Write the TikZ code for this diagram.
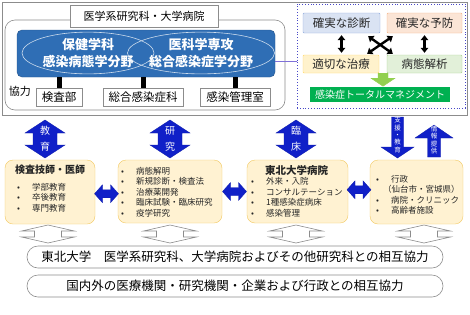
\documentclass[tikz,border=0pt]{standalone}
\usepackage{fontspec}
\setmainfont{Noto Sans CJK JP}
\usepackage{tikz}
\usetikzlibrary{arrows.meta,positioning,calc,shapes.geometric}
\definecolor{framegray}{HTML}{8C8C8C}
\definecolor{bandblue}{HTML}{2F6EB5}
\definecolor{arrowblue}{HTML}{1020C8}
\definecolor{dotblue}{HTML}{4848C8}
\definecolor{linkviolet}{HTML}{7F70D8}
\definecolor{diagfill}{HTML}{DAE3F3}
\definecolor{diagline}{HTML}{8FAADC}
\definecolor{prevfill}{HTML}{FBE5D6}
\definecolor{prevline}{HTML}{F4B183}
\definecolor{treatfill}{HTML}{FFF2CC}
\definecolor{treatline}{HTML}{FFD966}
\definecolor{analfill}{HTML}{E2F0D9}
\definecolor{analline}{HTML}{A9D18E}
\definecolor{tmgreen}{HTML}{00B050}
\definecolor{lightgreen}{HTML}{92D050}
\definecolor{cardfill}{HTML}{FFF2D2}
\definecolor{cardline}{HTML}{F2C85E}
\definecolor{textgray}{HTML}{262626}
\newcommand{\blt}{\makebox[15pt][l]{•}}

\begin{document}
\begin{tikzpicture}[x=1pt,y=-1pt,
  font=\fontsize{9}{11}\selectfont,
  box/.style={draw=framegray,fill=white,inner sep=0pt,align=center},
  sub/.style={box,minimum height=18pt,font=\fontsize{11.5}{13}\selectfont},
  dept/.style={ellipse,draw=white!75!bandblue,line width=0.6pt,inner sep=0pt,
               minimum height=38pt,align=center,text=white,
               font=\fontsize{13}{17}\selectfont\bfseries},
  tag/.style={draw,rounded corners=1pt,minimum height=20pt,inner sep=0pt,
              text=textgray,font=\fontsize{11.5}{13}\selectfont},
  card/.style={draw=cardline,fill=cardfill,rounded corners=8pt,inner sep=0pt},
  ttl/.style={inner sep=0pt,text=textgray,font=\fontsize{10}{12}\selectfont\bfseries},
  lst/.style={anchor=west,align=left,inner sep=0pt,text=textgray,
              font=\fontsize{8.5}{10.5}\selectfont},
  barr/.style={fill=arrowblue,draw=arrowblue!85!black,line width=0.3pt},
  hollow/.style={fill=white,draw=framegray,line width=0.6pt},
  atxt/.style={text=white,inner sep=0pt,font=\fontsize{10}{12}\selectfont},
  vtxt/.style={text=white,inner sep=0pt,align=center,font=\fontsize{6.5}{7.4}\selectfont},
  pill/.style={draw=framegray,line width=0.6pt,rounded corners=11pt,minimum width=416pt,
               minimum height=22pt,inner sep=0pt,font=\fontsize{12.5}{14}\selectfont},
  bk/.style={{Triangle[length=5pt,width=7.5pt]}-{Triangle[length=5pt,width=7.5pt]},line width=2.4pt},
  link/.style={draw=linkviolet,line width=0.6pt},
  vdarr/.pic={\draw[barr] (0,-19) -- ++(20,13) -- ++(-8,0) -- ++(0,12) -- ++(8,0)
    -- ++(-20,13) -- ++(-20,-13) -- ++(8,0) -- ++(0,-12) -- ++(-8,0) -- cycle;},
  hdarr/.pic={\draw[barr] (-12,0) -- ++(8,-9) -- ++(0,5) -- ++(8,0) -- ++(0,-5)
    -- ++(8,9) -- ++(-8,9) -- ++(0,-5) -- ++(-8,0) -- ++(0,5) -- cycle;},
  wdarr/.pic={\draw[hollow] (0,-9) -- ++(26.5,6) -- ++(-13,0) -- ++(0,6) -- ++(13,0)
    -- ++(-26.5,6) -- ++(-26.5,-6) -- ++(13,0) -- ++(0,-6) -- ++(-13,0) -- cycle;}
]
\useasboundingbox (0,0) rectangle (470,314);
% ---- top left: graduate school and hospital
\draw[framegray,line width=0.5pt] (2.5,2.5) rectangle (467,115.5);
\node[draw=framegray,line width=0.6pt,rounded corners=10pt,minimum width=280pt,
  minimum height=90pt] (school) at (145,65) {};
\node[box,minimum width=148pt,minimum height=22pt,font=\fontsize{11}{13}\selectfont]
  (head) at (144,16) {医学系研究科・大学病院};
\node[draw=bandblue!75!black,fill=bandblue,rounded corners=5pt,minimum width=258pt,
  minimum height=47pt] (band) at (146,53.5) {};
\node[dept,minimum width=132pt] (health) at (88,53) {保健学科\\感染病態学分野};
\node[dept,minimum width=126pt] (med) at (201,53) {医科学専攻\\総合感染症学分野};

\node[sub,minimum width=46pt] (lab) at (59,97) {検査部};
\node[sub,minimum width=80pt] (clin) at (143,97) {総合感染症科};
\node[sub,minimum width=70pt] (ict) at (235,97) {感染管理室};
\foreach \n in {lab,clin,ict}
  \draw[line width=5pt] (\n.north) -- (\n.north |- band.south);
\node[inner sep=0pt,font=\fontsize{11}{13}\selectfont] (coop) at (20,91) {協力};

% ---- top right: total management
\node[draw=dotblue,dotted,line width=0.8pt,minimum width=168pt,minimum height=104pt]
  (mgmt) at (381,56) {};
\coordinate (lk) at ($(band.east)+(0,7.5)$);
\draw[link] (lk) -- (lk -| mgmt.west);
\node[tag,draw=diagline,fill=diagfill,minimum width=77pt] (diag) at (341.5,23) {確実な診断};
\node[tag,draw=prevline,fill=prevfill,minimum width=75pt] (prev) at (424.5,23) {確実な予防};
\node[tag,draw=treatline,fill=treatfill,minimum width=76pt,minimum height=18pt]
  (treat) at (341,64) {適切な治療};
\node[tag,draw=analline,fill=analfill,minimum width=75pt,minimum height=18pt]
  (anal) at (424.5,64) {病態解析};
\node[fill=tmgreen,text=white,minimum width=140pt,minimum height=15pt,inner sep=0pt,
  font=\fontsize{10}{12}\selectfont] (tm) at (380,94.5) {感染症トータルマネジメント};
\draw[bk] ([yshift=-2pt]diag.south) -- ([yshift=2pt]diag.south |- treat.north);
\draw[bk] ([yshift=-2pt]prev.south) -- ([yshift=2pt]prev.south |- anal.north);
\draw[bk] ($(diag.south east)+(-12,3)$) -- ($(anal.north west)+(6,-1)$);
\draw[bk] ($(prev.south west)+(6,3)$) -- ($(treat.north east)+(-12,-1)$);
\coordinate (ga) at ($(treat.south east)!0.5!(anal.south west)$);
\draw[fill=lightgreen,draw=lightgreen] ($(ga)+(-5,0)$) -- ++(10,0) -- ++(0,5) -- ++(7,0)
  -- ++(-12,8) -- ++(-12,-8) -- ++(7,0) -- cycle;

% ---- middle: education, research, clinic
\foreach \x/\a/\b/\n in {45/教/育/edu,170/研/究/res,296/臨/床/cli}{
  \pic at (\x,139) {vdarr};
  \node[atxt] (\n-a) at (\x,130.5) {\a};
  \node[atxt] (\n-b) at (\x,147) {\b};
}
\draw[barr] (391.5,117) -- (403.5,117) -- (403.5,147) -- (414,147) -- (397.5,158)
  -- (381,147) -- (391.5,147) -- cycle;
\node[vtxt] (sup) at (397.5,135) {支\\援\\・\\教\\育};
\draw[barr] (434,125) -- (453,138) -- (440.5,138) -- (440.5,157) -- (427.5,157)
  -- (427.5,138) -- (415,138) -- cycle;
\node[vtxt] (info) at (434,140) {情\\報\\提\\供};

\node[card,minimum width=90pt,minimum height=64pt] (staff) at (50,192) {};
\node[card,minimum width=104pt,minimum height=63pt] (study) at (170,191.5) {};
\node[card,minimum width=101pt,minimum height=63pt] (hosp) at (297.5,191.5) {};
\node[card,minimum width=93pt,minimum height=64pt] (admin) at (416.5,192) {};
\pic at ($(staff.east)!0.5!(study.west)+(0,2)$) {hdarr};
\pic at ($(study.east)!0.5!(hosp.west)$) {hdarr};
\pic at ($(hosp.east)!0.5!(admin.west)+(0,-2)$) {hdarr};

\node[ttl,anchor=west] (staff-t) at (15,170) {検査技師・医師};
\node[lst] (staff-l) at (17,197.5) {\blt 学部教育\\\blt 卒後教育\\\blt 専門教育};
\node[lst] (study-l) at (121,192) {\blt 病態解明\\\blt 新規診断・検査法\\\blt 治療薬開発\\
  \blt 臨床試験・臨床研究\\\blt 疫学研究};
\node[ttl,font=\fontsize{10.5}{12}\selectfont\bfseries] (hosp-t) at (296.5,170) {東北大学病院};
\node[lst] (hosp-l) at (251,197.5) {\blt 外来・入院\\\blt コンサルテーション\\
  \blt 1種感染症病床\\\blt 感染管理};
\node[lst] (admin-l) at (376,195) {\blt 行政\\\hspace{7pt}（仙台市・宮城県）\\
  \blt 病院・クリニック\\\blt 高齢者施設};

% ---- bottom: cooperation
\foreach \x in {48,170,296,424}
  \pic at (\x,234) {wdarr};
\node[pill] (uni) at (235,257) {東北大学　医学系研究科、大学病院およびその他研究科との相互協力};
\node[pill] (ext) at (235,286) {国内外の医療機関・研究機関・企業および行政との相互協力};
\end{tikzpicture}
\end{document}
